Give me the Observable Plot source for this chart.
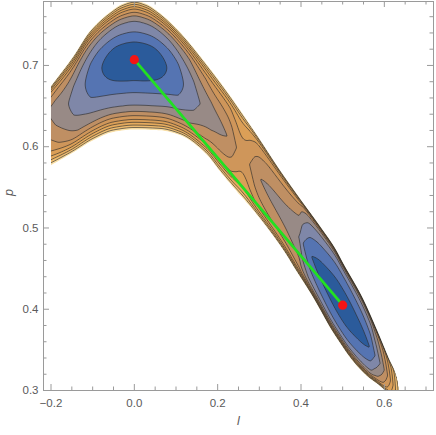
<!DOCTYPE html>
<html>
<head>
<meta charset="utf-8">
<script src="https://cdn.jsdelivr.net/npm/d3@7"></script>
<script src="https://cdn.jsdelivr.net/npm/@observablehq/plot@0.6"></script>
<style>
  html, body { margin: 0; padding: 0; background: #fff; }
  svg { display: block; }
</style>
</head>
<body>
<div id="chart"></div>
<script>
// ---------------- data ----------------
const lTicks = [-0.2, 0.0, 0.2, 0.4, 0.6];
const pTicks = [0.3, 0.4, 0.5, 0.6, 0.7];
const lMinorTicks = [-0.15, -0.1, -0.05, 0.05, 0.1, 0.15, 0.25, 0.3, 0.35, 0.45, 0.5, 0.55, 0.65, 0.7];
const pMinorTicks = [0.32, 0.34, 0.36, 0.38, 0.42, 0.44, 0.46, 0.48, 0.52, 0.54, 0.56, 0.58,
                     0.62, 0.64, 0.66, 0.68, 0.72, 0.74, 0.76];
const lDomain = [-0.218, 0.718];
const pDomain = [0.3, 0.7787];

// upper (outer) edge of the coloured band, by l
const upperL = [-0.2, -0.146, -0.106, -0.058, -0.028, 0, 0.028, 0.058, 0.110, 0.170, 0.230, 0.290, 0.350, 0.398, 0.446, 0.482, 0.502, 0.547, 0.583, 0.610, 0.631, 0.640];
const upperP = [0.675, 0.712, 0.743, 0.766, 0.776, 0.780, 0.776, 0.766, 0.741, 0.704, 0.663, 0.618, 0.571, 0.536, 0.502, 0.475, 0.456, 0.415, 0.374, 0.341, 0.316, 0.290];
// lower (outer) edge of the coloured band, by l
const lowerL = [-0.2, -0.146, -0.098, -0.05, 0, 0.062, 0.110, 0.170, 0.206, 0.242, 0.278, 0.326, 0.362, 0.386, 0.410, 0.427, 0.446, 0.470, 0.494, 0.514, 0.538, 0.562, 0.583, 0.602, 0.622, 0.640];
const lowerP = [0.577, 0.593, 0.608, 0.618, 0.621, 0.620, 0.614, 0.592, 0.569, 0.547, 0.526, 0.495, 0.469, 0.449, 0.430, 0.416, 0.399, 0.377, 0.358, 0.343, 0.328, 0.316, 0.308, 0.300, 0.293, 0.290];
// valley floor (centre of the band)
const valleyL = [-0.2, -0.158, -0.118, -0.078, -0.04, 0, 0.04, 0.078, 0.118, 0.158, 0.22, 0.30, 0.40, 0.50, 0.56, 0.60, 0.64];
const valleyP = [0.645, 0.653, 0.677, 0.697, 0.705, 0.707, 0.705, 0.697, 0.677, 0.653, 0.615, 0.562, 0.485, 0.405, 0.357, 0.325, 0.290];
// contour level at which each closed contour ends along the valley
const depthL = [-0.2, -0.158, -0.118, -0.078, -0.04, 0, 0.04, 0.078, 0.118, 0.158, 0.223, 0.26, 0.302, 0.394, 0.405, 0.425, 0.45, 0.5, 0.54, 0.565, 0.578, 0.59, 0.60, 0.615, 0.63, 0.64];
const depthLevel = [3.8, 3, 2, 1, 0.3, 0, 0.3, 1, 2, 3, 4, 5.4, 4, 3, 2, 1, 0.45, 0.05, 0.4, 1, 2, 3, 4, 6, 8.5, 10];
// roundness of the closed contours along the valley
const roundL = [-0.2, -0.1, 0.1, 0.2, 0.64];
const roundQ = [1.2, 1.8, 1.8, 1, 1];
// relative distance from the valley floor to each contour (levels 0..10)
const profileLeft       = [0, 0.30, 0.47, 0.65, 0.74, 0.80, 0.855, 0.895, 0.935, 0.97, 1];
const profileRightUpper = [0, 0.40, 0.70, 0.85, 0.905, 0.935, 0.955, 0.97, 0.982, 0.992, 1];
const profileRightLower = [0, 0.40, 0.68, 0.80, 0.85, 0.885, 0.915, 0.94, 0.96, 0.98, 1];
const blendL = [0.12, 0.42];

// contour levels and their colours
const fillLevels = [0, 1, 2, 3, 4, 5, 6, 7, 8, 9, 10];
const levelColors = ["#2b5b9b", "#5574b2", "#7f87a8", "#988a86", "#bf8f63", "#cf965a",
                     "#db9f57", "#e5ab5e", "#eebc70", "#f9dfa6", "#ffffff"];
const lineLevels = [1, 2, 3, 4, 5, 6, 7, 8, 9];

// path between the two minima
const pathL = [0, 0.5];
const pathP = [0.7071, 0.405];

// ---------------- helpers ----------------
function monotone(xs, ys) {
  const n = xs.length, dx = [], m = [], t = new Array(n);
  for (let i = 0; i < n - 1; i++) { dx[i] = xs[i + 1] - xs[i]; m[i] = (ys[i + 1] - ys[i]) / dx[i]; }
  t[0] = m[0]; t[n - 1] = m[n - 2];
  for (let i = 1; i < n - 1; i++) {
    t[i] = m[i - 1] * m[i] <= 0 ? 0 :
      3 * (dx[i - 1] + dx[i]) / ((2 * dx[i] + dx[i - 1]) / m[i - 1] + (dx[i] + 2 * dx[i - 1]) / m[i]);
  }
  return x => {
    if (x <= xs[0]) return ys[0] + t[0] * (x - xs[0]);
    if (x >= xs[n - 1]) return ys[n - 1] + t[n - 1] * (x - xs[n - 1]);
    const i = Math.min(n - 2, d3.bisectRight(xs, x) - 1);
    const h = dx[i], u = (x - xs[i]) / h;
    const h00 = (1 + 2 * u) * (1 - u) * (1 - u), h10 = u * (1 - u) * (1 - u);
    const h01 = u * u * (3 - 2 * u), h11 = u * u * (u - 1);
    return h00 * ys[i] + h10 * h * t[i] + h01 * ys[i + 1] + h11 * h * t[i + 1];
  };
}
const edgeU = monotone(upperL, upperP);
const edgeLo = monotone(lowerL, lowerP);
const floorC = monotone(valleyL, valleyP);
const depthD = monotone(depthL, depthLevel);
const roundF = monotone(roundL, roundQ);
const topLevel = fillLevels[fillLevels.length - 1];
const lStart = upperL[0], lEnd = upperL[upperL.length - 1];

function profileAt(s, w, right) {
  if (s >= 1) return topLevel + (s - 1) * 100;
  for (let k = 0; k < profileLeft.length - 1; k++) {
    const a = profileLeft[k] * (1 - w) + right[k] * w;
    const b = profileLeft[k + 1] * (1 - w) + right[k + 1] * w;
    if (s <= b) return k + (s - a) / (b - a);
  }
  return topLevel;
}
function bandValue(l, p) {
  if (l > lEnd) return 99;
  const u = edgeU(l), lo = edgeLo(l), c = floorC(l);
  const e = Math.max(0, Math.min(depthD(l), topLevel));
  if (u - c <= 1e-6 || c - lo <= 1e-6) return 99;
  const upperSide = p >= c;
  const s = upperSide ? (p - c) / (u - c) : (c - p) / (c - lo);
  let w = (l - blendL[0]) / (blendL[1] - blendL[0]);
  w = Math.max(0, Math.min(1, w)); w = w * w * (3 - 2 * w);
  const g = profileAt(s, w, upperSide ? profileRightUpper : profileRightLower);
  if (g >= topLevel) return g;
  const q = Math.max(1, Math.min(2, roundF(Math.max(l, roundL[0]))));
  const gq = Math.pow(g, q), eq = Math.pow(e, q), tq = Math.pow(topLevel, q);
  return Math.pow(gq + eq * (1 - gq / tq), 1 / q);
}
const fillField = (l, p) => (l < lStart ? 99 : bandValue(l, p));
const lineField = (l, p) => bandValue(l, p);

// ---------------- chart ----------------
const W = 436, H = 435;
const M = {top: 1, right: 3, bottom: 45, left: 43};
const fw = W - M.left - M.right, fh = H - M.top - M.bottom;
const frameColor = "#9a9a9a";
const textColor = "#5a5a5a";
const ext = {x1: lDomain[0], x2: lDomain[1], y1: pDomain[0], y2: pDomain[1]};

const ticksX = (vals, len) => [
  Plot.ruleX(vals, {stroke: frameColor, insetTop: fh - len}),
  Plot.ruleX(vals, {stroke: frameColor, insetBottom: fh - len})
];
const ticksY = (vals, len) => [
  Plot.ruleY(vals, {stroke: frameColor, insetRight: fw - len}),
  Plot.ruleY(vals, {stroke: frameColor, insetLeft: fw - len})
];
const pathData = pathL.map((l, i) => ({l, p: pathP[i]}));

const chart = Plot.plot({
  width: W, height: H,
  marginTop: M.top, marginRight: M.right, marginBottom: M.bottom, marginLeft: M.left,
  style: {fontFamily: "'Liberation Sans', Arial, sans-serif", fontSize: "11.5px", background: "#fff"},
  x: {domain: lDomain},
  y: {domain: pDomain},
  color: {type: "ordinal", domain: fillLevels, range: levelColors},
  marks: [
    Plot.contour({...ext, fill: fillField, thresholds: fillLevels.slice(0, -1), pixelSize: 1, stroke: "none"}),
    Plot.contour({...ext, value: lineField, thresholds: lineLevels, pixelSize: 1,
                  fill: "none", stroke: "#2a2a2a", strokeOpacity: 0.62, strokeWidth: 1, clip: true}),
    Plot.contour({...ext, fill: fillField, thresholds: [topLevel], pixelSize: 1, stroke: "none"}),
    Plot.line(pathData, {x: "l", y: "p", stroke: "#22e022", strokeWidth: 2.8}),
    Plot.dot(pathData, {x: "l", y: "p", r: 4.6, fill: "#f41515", stroke: "none"}),
    ...ticksX(lTicks, 6), ...ticksX(lMinorTicks, 3.5),
    ...ticksY(pTicks, 6), ...ticksY(pMinorTicks, 3.5),
    Plot.frame({stroke: frameColor}),
    Plot.axisX(lTicks, {tickSize: 0, tickPadding: 8, tickFormat: d3.format(".1f"), label: null, color: textColor}),
    Plot.axisY(pTicks, {tickSize: 0, tickPadding: 5, tickFormat: d3.format(".1f"), label: null, color: textColor}),
    Plot.text(["l"], {frameAnchor: "bottom", dy: 34, fontStyle: "italic", fill: textColor, fontSize: 12.5}),
    Plot.text(["p"], {frameAnchor: "left", dx: -35, rotate: -90, fontStyle: "italic", fill: textColor, fontSize: 12.5})
  ]
});
document.getElementById("chart").appendChild(chart);
</script>
</body>
</html>
